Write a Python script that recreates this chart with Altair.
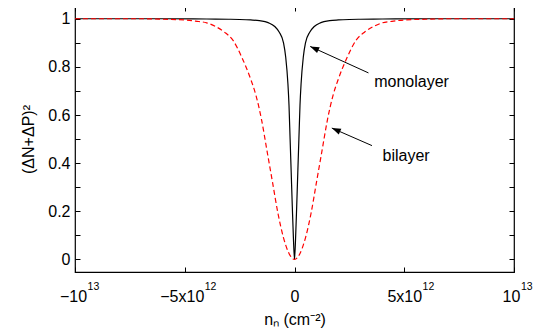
import math
import altair as alt
import pandas as pd

# ---------------- data (n in units of 1e12 cm^-2) ----------------
mono_n = [-10, -6, -4, -3, -2.5, -2, -1.6, -1.2, -0.9, -0.7, -0.5, -0.4, -0.3, -0.25, -0.2, -0.15, -0.1, -0.05,
          0, 0.05, 0.1, 0.15, 0.2, 0.25, 0.3, 0.4, 0.5, 0.7, 0.9, 1.2, 1.6, 2, 2.5, 3, 4, 6, 10]
mono_v = [1.0, 1.0, 0.999, 0.998, 0.997, 0.995, 0.992, 0.984, 0.968, 0.945, 0.90, 0.84, 0.73, 0.64, 0.50, 0.36, 0.22, 0.09,
          0.0, 0.09, 0.22, 0.36, 0.50, 0.64, 0.73, 0.84, 0.90, 0.945, 0.968, 0.984, 0.992, 0.995, 0.997, 0.998, 0.999, 1.0, 1.0]

bi_n = [-10, -7, -6, -5, -4.5, -4, -3.6, -3.2, -2.8, -2.4, -2, -1.75, -1.5, -1.25, -1, -0.75, -0.5, -0.25,
        0, 0.25, 0.5, 0.75, 1, 1.25, 1.5, 1.75, 2, 2.4, 2.8, 3.2, 3.6, 4, 4.5, 5, 6, 7, 10]
bi_v = [1.0, 1.0, 0.998, 0.995, 0.99, 0.983, 0.968, 0.945, 0.91, 0.84, 0.75, 0.68, 0.58, 0.45, 0.32, 0.19, 0.09, 0.025,
        0.0, 0.025, 0.09, 0.19, 0.32, 0.45, 0.58, 0.68, 0.75, 0.84, 0.91, 0.945, 0.968, 0.983, 0.99, 0.995, 0.998, 1.0, 1.0]

x_ticks = [-10, -5, 0, 5, 10]
x_tick_base = ["−10", "−5x10", "0", "5x10", "10"]
x_tick_exp = ["13", "12", "", "12", "13"]
y_label_values = [0, 0.2, 0.4, 0.6, 0.8, 1]
y_minor_values = [0, 0.1, 0.2, 0.3, 0.4, 0.5, 0.6, 0.7, 0.8, 0.9, 1.0]

ann_text = ["monolayer", "bilayer"]
ann_text_n = [3.63, 4.01]
ann_text_v = [0.718, 0.41]
arrow_tail_n = [3.37, 3.53]
arrow_tail_v = [0.775, 0.473]
arrow_tip_n = [0.715, 1.70]
arrow_tip_v = [0.885, 0.546]

# ---------------- layout ----------------
W, H = 439, 266
X_DOM = [-10, 10]
Y_DOM = [-0.052, 1.053]
FONT = "Liberation Sans"
FS = 16
FS_SUP = 10.5
# small horizontal nudges of the base tick labels (px), as in the reference
BASE_SHIFT = {-10: -2, -5: -3, 0: 0, 5: 0, 10: -3}

# approximate advance widths (em) of Liberation Sans glyphs used in the base labels
GLYPH_EM = {"−": 0.584, "0": 0.556, "1": 0.556, "5": 0.556, "x": 0.5}

xs = alt.Scale(domain=X_DOM, nice=False, zero=False)
ys = alt.Scale(domain=Y_DOM, nice=False, zero=False)

mono_df = pd.DataFrame({"n": mono_n, "v": mono_v})
bi_df = pd.DataFrame({"n": bi_n, "v": bi_v})

sx = W / (X_DOM[1] - X_DOM[0])
sy = H / (Y_DOM[1] - Y_DOM[0])
angles = []
for tn, tv, hn, hv in zip(arrow_tail_n, arrow_tail_v, arrow_tip_n, arrow_tip_v):
    dx = (hn - tn) * sx
    dy = -(hv - tv) * sy
    angles.append(math.degrees(math.atan2(dx, -dy)) % 360)

arrow_df = pd.DataFrame({"n": arrow_tail_n, "v": arrow_tail_v, "n2": arrow_tip_n, "v2": arrow_tip_v,
                         "ang": angles})
text_df = pd.DataFrame({"n": ann_text_n, "v": ann_text_v, "t": ann_text})


def map_expr(values, texts):
    return " : ".join(f"datum.value == {v} ? '{t}'" for v, t in zip(values, texts)) + " : ''"


base_conditions = [{"test": f"datum.value == {v}", "value": BASE_SHIFT[v]} for v in x_ticks if BASE_SHIFT[v]]
sup_conditions = []
for v, b, e in zip(x_ticks, x_tick_base, x_tick_exp):
    if e:
        half = sum(GLYPH_EM[c] for c in b) * FS / 2
        sup_conditions.append({"test": f"datum.value == {v}", "value": round(half + 0.5 + BASE_SHIFT[v], 1)})

x_main = alt.Axis(orient="bottom", values=x_ticks, labelExpr=map_expr(x_ticks, x_tick_base), ticks=False,
                  domain=False, grid=False,
                  labelPadding=16, labelFontSize=FS, labelFont=FONT, labelColor="black", labelFlush=False,
                  labelOverlap=False, labelOffset={"condition": base_conditions, "value": 0},
                  title="nₙ (cm⁻²)", titleFont=FONT, titleFontSize=FS, titleFontWeight="normal",
                  titleColor="black", titleY=52, titleBaseline="alphabetic")
x_sup = alt.Axis(orient="bottom", values=x_ticks, labelExpr=map_expr(x_ticks, x_tick_exp), ticks=False,
                 domain=False, grid=False, labelAlign="left",
                 labelPadding=9, labelFontSize=FS_SUP, labelFont=FONT, labelColor="black", labelFlush=False,
                 labelOverlap=False, labelOffset={"condition": sup_conditions, "value": 0}, title=None)
y_main = alt.Axis(orient="left", values=y_label_values, format=".1~f", ticks=False, domain=False, grid=False,
                  labelPadding=5, labelFontSize=FS, labelFont=FONT, labelColor="black",
                  title="(ΔN+ΔP)²", titleFont=FONT, titleFontSize=FS, titleFontWeight="normal",
                  titleColor="black", titleAngle=270, titleX=-42, titleY=H / 2,
                  titleBaseline="alphabetic", titleAlign="center")


def tick_axis(orient, offset, values):
    return alt.Axis(orient=orient, offset=offset, values=values, labels=False, domain=False, grid=False,
                    ticks=True, tickSize=5, tickColor="black", tickWidth=1, title=None)


mono = alt.Chart(mono_df).mark_line(color="black", strokeWidth=1.2, interpolate="monotone").encode(
    x=alt.X("n:Q", scale=xs, axis=x_main),
    y=alt.Y("v:Q", scale=ys, axis=y_main),
)

sup_layer = alt.Chart(mono_df).mark_line(opacity=0).encode(
    x=alt.X("n:Q", scale=xs, axis=x_sup),
    y=alt.Y("v:Q", scale=ys, axis=None),
)

ticks1 = alt.Chart(mono_df).mark_line(opacity=0).encode(
    x=alt.X("n:Q", scale=xs, axis=tick_axis("bottom", -H, x_ticks)),
    y=alt.Y("v:Q", scale=ys, axis=tick_axis("right", -W, y_minor_values)),
)
ticks2 = alt.Chart(mono_df).mark_line(opacity=0).encode(
    x=alt.X("n:Q", scale=xs, axis=tick_axis("top", -H, x_ticks)),
    y=alt.Y("v:Q", scale=ys, axis=tick_axis("left", -W, y_minor_values)),
)

bi = alt.Chart(bi_df).mark_line(color="#ff0000", strokeWidth=1.2, strokeDash=[5, 3],
                                interpolate="monotone").encode(
    x=alt.X("n:Q", scale=xs, axis=None),
    y=alt.Y("v:Q", scale=ys, axis=None),
)

arrows = alt.Chart(arrow_df).mark_rule(color="black", strokeWidth=1).encode(
    x=alt.X("n:Q", scale=xs, axis=None),
    y=alt.Y("v:Q", scale=ys, axis=None),
    x2="n2:Q",
    y2="v2:Q",
)

heads = alt.Chart(arrow_df).mark_point(shape="M0,0L-0.36,1L0.36,1Z", filled=True, color="black",
                                       opacity=1, size=324, strokeWidth=0).encode(
    x=alt.X("n2:Q", scale=xs, axis=None),
    y=alt.Y("v2:Q", scale=ys, axis=None),
    angle=alt.Angle("ang:Q", scale=None),
)

texts = alt.Chart(text_df).mark_text(align="left", baseline="alphabetic", font=FONT, fontSize=FS,
                                     color="black").encode(
    x=alt.X("n:Q", scale=xs, axis=None),
    y=alt.Y("v:Q", scale=ys, axis=None),
    text="t:N",
)

chart = alt.layer(ticks1, ticks2, sup_layer, mono, bi, arrows, heads, texts).resolve_axis(
    x="independent", y="independent"
).properties(
    width=W, height=H,
    padding={"left": 67, "top": -2, "right": 19, "bottom": 56},
    autosize=alt.AutoSizeParams(type="none"),
).configure_view(stroke="black", strokeWidth=1.2)

chart.save("out.html", embed_options={"renderer": "svg", "actions": False})
